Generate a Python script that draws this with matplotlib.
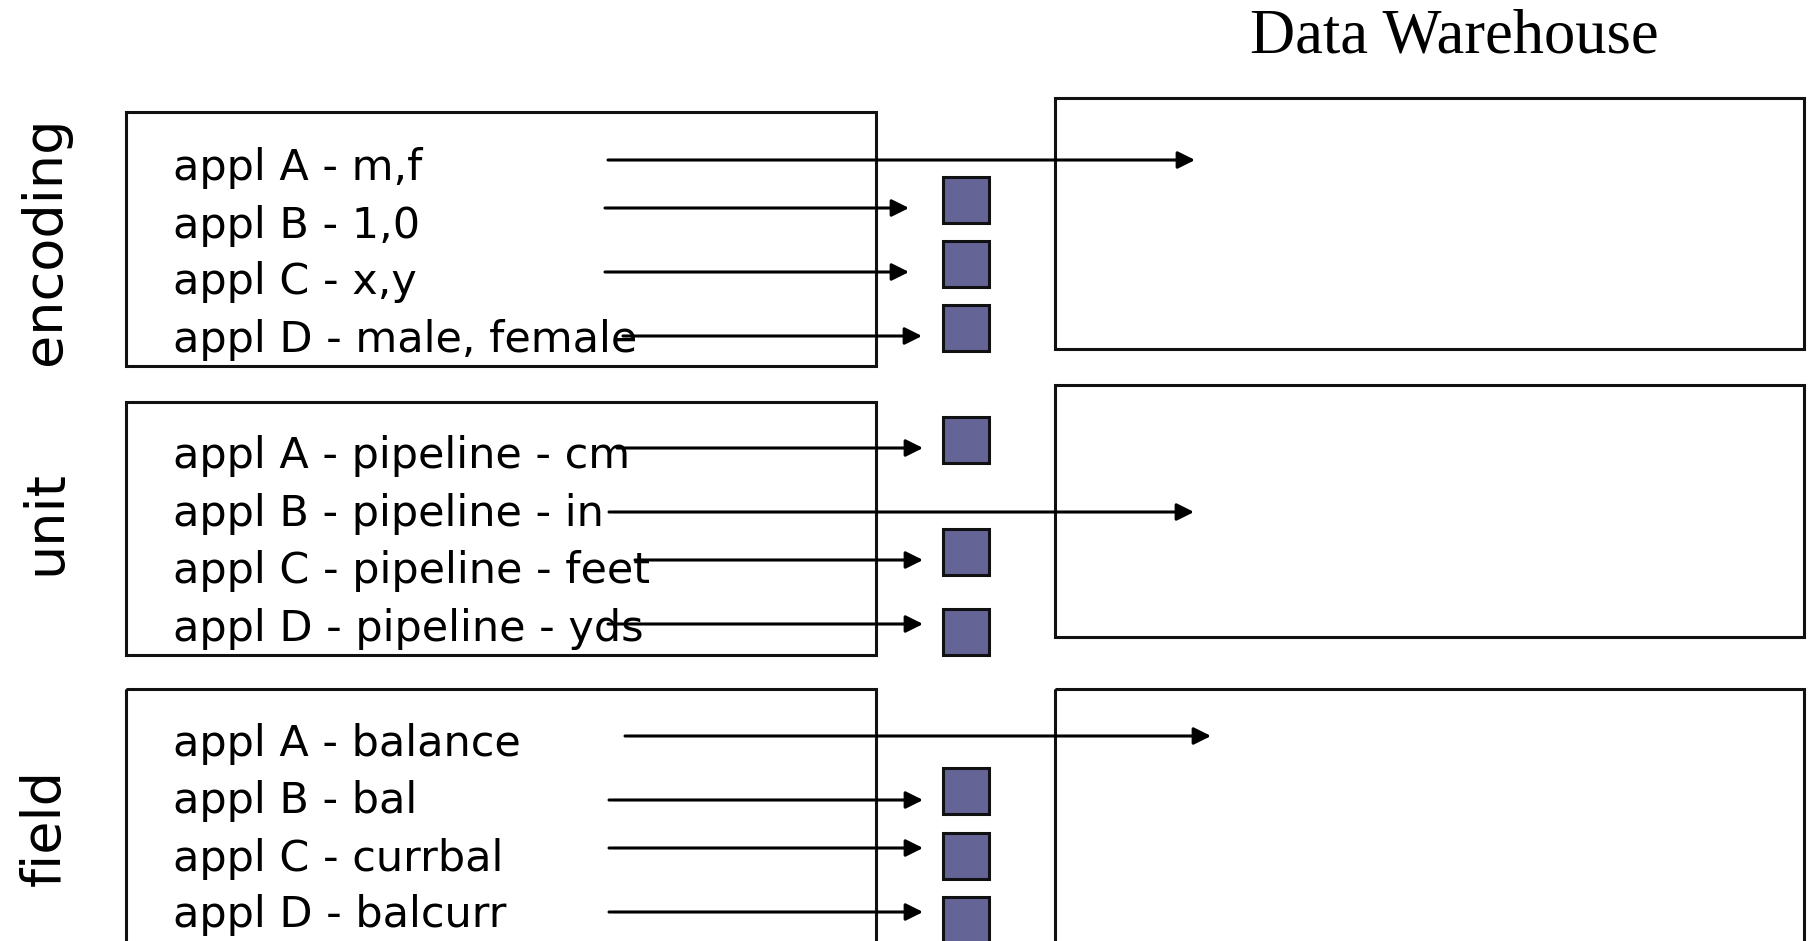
import matplotlib
matplotlib.use("Agg")
import matplotlib.pyplot as plt
from matplotlib.patches import Rectangle

# ---- data ----
title = "Data Warehouse"
categories = ["encoding", "unit", "field"]
entries = [
    ["appl A - m,f", "appl B - 1,0", "appl C - x,y", "appl D - male, female"],
    ["appl A - pipeline - cm", "appl B - pipeline - in",
     "appl C - pipeline - feet", "appl D - pipeline - yds"],
    ["appl A - balance", "appl B - bal", "appl C - currbal", "appl D - balcurr"],
]
# True -> arrow goes straight into the warehouse, False -> to a staging square
direct = [
    [True, False, False, False],
    [False, True, False, False],
    [True, False, False, False],
]

# ---- layout (pixel coordinates, y downward) ----
W, H = 1810, 941
left_box_x = (126, 876)
left_box_y = [(112, 366), (402, 655), (689, 990)]
dw_box_x = (1055, 1804)
dw_box_y = [(98, 349), (385, 637), (689, 990)]
text_x = 173
baselines = [[180, 238, 294, 352], [468, 526, 583, 641], [756, 813, 871, 927]]
arrow_y = [[160, 208, 272, 336], [448, 512, 560, 624], [736, 800, 848, 912]]
arrow_x0 = [[608, 605, 605, 623], [617, 609, 635, 608], [625, 609, 609, 609]]
tip_sq = [[909, 909, 909, 922], [923, 923, 923, 923], [923, 923, 923, 923]]
tip_dw = [1195, 1194, 1211]
sq_top = [[None, 177, 241, 305], [417, None, 529, 609], [None, 768, 833, 897]]
sq_x, sq_size = 943, 46
label_x = 60
label_y = [241, 523, 828]

fig = plt.figure(figsize=(W / 100, H / 100), dpi=100)
ax = fig.add_axes([0, 0, 1, 1])
ax.set_xlim(0, W)
ax.set_ylim(H, 0)
ax.axis("off")

lw_box = 2.2
ec = "#111111"

for i, cat in enumerate(categories):
    y0, y1 = left_box_y[i]
    ax.add_patch(Rectangle((left_box_x[0], y0), left_box_x[1] - left_box_x[0], y1 - y0,
                           fill=False, lw=lw_box, ec=ec, zorder=1))
    y0, y1 = dw_box_y[i]
    ax.add_patch(Rectangle((dw_box_x[0], y0), dw_box_x[1] - dw_box_x[0], y1 - y0,
                           fill=False, lw=lw_box, ec=ec, zorder=1))
    ax.text(label_x, label_y[i], cat, rotation=90, rotation_mode="anchor",
            ha="center", va="baseline", fontsize=39, family="DejaVu Sans", color="black")
    for j, txt in enumerate(entries[i]):
        ax.text(text_x, baselines[i][j], txt, ha="left", va="baseline",
                fontsize=31, family="DejaVu Sans", color="black", zorder=2)
        tip = tip_dw[i] if direct[i][j] else tip_sq[i][j]
        ax.annotate("", xy=(tip, arrow_y[i][j]), xytext=(arrow_x0[i][j], arrow_y[i][j]),
                    arrowprops=dict(arrowstyle="-|>,head_length=0.4,head_width=0.2",
                                    lw=2.2, color="black", shrinkA=0, shrinkB=0,
                                    mutation_scale=26), zorder=3)
        if not direct[i][j]:
            ax.add_patch(Rectangle((sq_x, sq_top[i][j]), sq_size, sq_size,
                                   fc="#646496", ec=ec, lw=2.2, zorder=3))

ax.text(1454, 52, title, ha="center", va="baseline", fontsize=45,
        family=["Liberation Serif", "DejaVu Serif"], color="black")

fig.savefig("out.png", dpi=100)
